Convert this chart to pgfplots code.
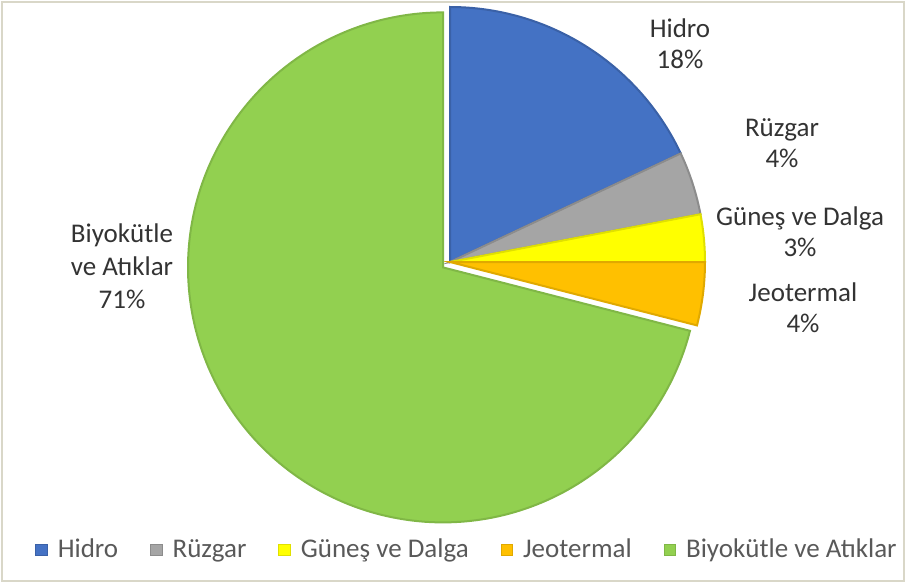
\documentclass[border=0pt]{standalone}
\usepackage{fontspec}
\setmainfont{Carlito}
\usepackage{pgfplots}
\pgfplotsset{compat=1.18}
\definecolor{cHidro}{HTML}{4472C4}
\definecolor{cRuz}{HTML}{A5A5A5}
\definecolor{cGun}{HTML}{FFFF00}
\definecolor{cJeo}{HTML}{FFC000}
\definecolor{cBio}{HTML}{92D050}
\definecolor{lbl}{HTML}{333333}
\definecolor{leg}{HTML}{595959}
\definecolor{frame}{RGB}{217,215,200}
% shares (percent)
\def\pH{18}\def\pR{4}\def\pG{3}\def\pJ{4}\def\pB{71}
\begin{document}
\begin{tikzpicture}
\begin{axis}[
  hide axis, scale only axis, clip=false,
  width=453pt, height=291.5pt,
  xmin=0, xmax=906, ymin=0, ymax=583,
  samples=90,
  legend columns=5,
  legend style={draw=none, fill=none, at={(axis cs:468,33)}, anchor=center,
    font=\fontsize{13.5pt}{15pt}\selectfont, text=leg,
    /tikz/every even column/.append style={column sep=14pt},
    /tikz/every odd column/.append style={column sep=3pt},
    inner sep=0pt},
  legend image code/.code={\filldraw[#1, line width=0.4pt] (0pt,-2.9pt) rectangle (5.8pt,2.9pt);},
]
\path (axis cs:0,0) rectangle (axis cs:906,583);
\draw[frame, line width=1pt] (axis cs:2,2) rectangle (axis cs:904,581);
% Hidro
\addplot[fill=cHidro, draw=cHidro!85!black, line width=1pt, variable=\t, domain={90-3.6*\pH}:90]
  ({450+255*cos(\t)},{321+255*sin(\t)}) -- (axis cs:450,321) -- cycle;
\addlegendentry{Hidro}
% Ruzgar
\addplot[fill=cRuz, draw=cRuz!85!black, line width=1pt, variable=\t, domain={90-3.6*(\pH+\pR)}:{90-3.6*\pH}]
  ({450+255*cos(\t)},{321+255*sin(\t)}) -- (axis cs:450,321) -- cycle;
\addlegendentry{Rüzgar}
% Gunes
\addplot[fill=cGun, draw=cGun!88!black, line width=1pt, variable=\t, domain={90-3.6*(\pH+\pR+\pG)}:{90-3.6*(\pH+\pR)}]
  ({450+255*cos(\t)},{321+255*sin(\t)}) -- (axis cs:450,321) -- cycle;
\addlegendentry{Güneş ve Dalga}
% Jeotermal
\addplot[fill=cJeo, draw=cJeo!88!black, line width=1pt, variable=\t, domain={90-3.6*(\pH+\pR+\pG+\pJ)}:{90-3.6*(\pH+\pR+\pG)}]
  ({450+255*cos(\t)},{321+255*sin(\t)}) -- (axis cs:450,321) -- cycle;
\addlegendentry{Jeotermal}
% Biyokutle (exploded)
\addplot[fill=cBio, draw=cBio!88!black, line width=1pt, variable=\t, domain=90:{450-3.6*(\pH+\pR+\pG+\pJ)}, samples=200]
  ({443+255*cos(\t)},{315.6+255*sin(\t)}) -- (axis cs:443,315.6) -- cycle;
\addlegendentry{Biyokütle ve Atıklar}
% data labels
\begin{scope}[every node/.style={align=center, text=lbl, font=\fontsize{13.5pt}{15.5pt}\selectfont, inner sep=0pt}]
\node at (axis cs:680,539) {Hidro\\18\%};
\node at (axis cs:782,440) {Rüzgar\\4\%};
\node at (axis cs:800,351) {Güneş ve Dalga\\3\%};
\node at (axis cs:803,275) {Jeotermal\\4\%};
\node[font=\fontsize{13.5pt}{16.5pt}\selectfont] at (axis cs:122,317) {Biyokütle\\ve Atıklar\\71\%};
\end{scope}
\end{axis}
\end{tikzpicture}
\end{document}
